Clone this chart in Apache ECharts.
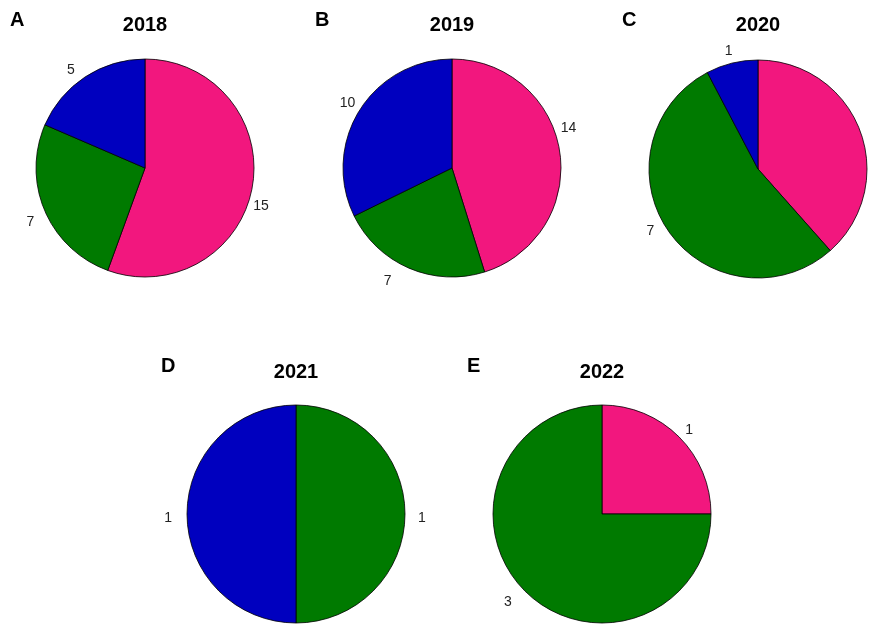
<!DOCTYPE html>
<html>
<head>
<meta charset="utf-8">
<script src="https://cdn.jsdelivr.net/npm/echarts@6/dist/echarts.min.js"></script>
<style>
html,body{margin:0;padding:0;background:#fff;}
#chart{width:869px;height:624px;}
</style>
</head>
<body>
<div id="chart"></div>
<script>
// ---- data ----
const years = ['2018', '2019', '2020', '2021', '2022'];
const panelLetters = ['A', 'B', 'C', 'D', 'E'];
const categories = ['Category 1', 'Category 2', 'Category 3'];
const pinkValues  = [15, 14, 5, 0, 1];
const greenValues = [7, 7, 7, 1, 3];
const blueValues  = [5, 10, 1, 1, 0];
const pinkLabelShown = [true, true, false, true, true];

// ---- style / layout ----
const FONT = 'Liberation Sans, Arial, sans-serif';
const colors = ['#F2177E', '#007A00', '#0000BF'];
const centers = [[145, 168], [452, 168], [758, 169], [296, 514], [602, 514]];
const radius = 109;
const titleTops = [15, 15, 15, 362, 362];
const letterPos = [[10, 10], [315, 10], [622, 10], [161, 356], [467, 356]];
// small label nudges (pixels) per panel, per category [pink, green, blue]
const labelNudge = [
  [[-10, 18], [0, 9], [-2, -2]],
  [[-10, -22], [-10, 7], [6, -4]],
  [[0, 0], [-4, -3], [7, -6]],
  [[0, 0], [2, 4], [-4, 4]],
  [[-3, -3], [-4, 7], [0, 0]]
];

const series = [];
const titles = [];
years.forEach((y, i) => {
  const vals = [pinkValues[i], greenValues[i], blueValues[i]];
  const data = [];
  vals.forEach((v, k) => {
    if (v > 0) {
      const item = {
        name: categories[k], value: v,
        itemStyle: { color: colors[k] },
        label: { offset: labelNudge[i][k] }
      };
      if (k === 0 && !pinkLabelShown[i]) item.label.show = false;
      data.push(item);
    }
  });
  series.push({
    type: 'pie',
    center: centers[i],
    radius: radius,
    startAngle: 90,
    clockwise: true,
    avoidLabelOverlap: false,
    animation: false,
    silent: true,
    itemStyle: { borderColor: '#000', borderWidth: 0.8 },
    label: {
      show: true,
      position: 'outside',
      formatter: '{c}',
      color: '#222',
      fontSize: 14,
      fontFamily: FONT
    },
    labelLine: { show: false, length: 6, length2: 0 },
    emphasis: { disabled: true },
    data: data
  });
  titles.push({
    text: y,
    left: centers[i][0],
    top: titleTops[i],
    padding: 0,
    textAlign: 'center',
    textStyle: { fontSize: 20, fontWeight: 'bold', color: '#000', fontFamily: FONT }
  });
  titles.push({
    text: panelLetters[i],
    left: letterPos[i][0],
    top: letterPos[i][1],
    padding: 0,
    textStyle: { fontSize: 20, fontWeight: 'bold', color: '#000', fontFamily: FONT }
  });
});

const chart = echarts.init(document.getElementById('chart'), null, { renderer: 'canvas' });
chart.setOption({
  backgroundColor: '#fff',
  animation: false,
  title: titles,
  series: series
});
</script>
</body>
</html>
